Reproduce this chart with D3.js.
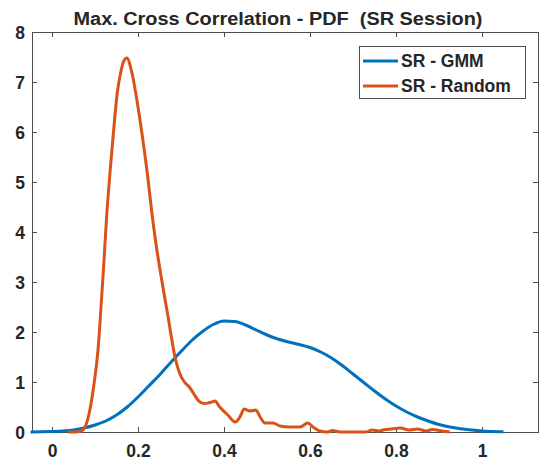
<!DOCTYPE html>
<html><head><meta charset="utf-8">
<script src="https://cdn.jsdelivr.net/npm/d3@7"></script>
<style>body{margin:0;background:#fff}svg{display:block;font-family:"Liberation Sans",Arial,sans-serif}</style>
</head><body>
<script>
const title = "Max. Cross Correlation - PDF  (SR Session)";
const seriesNames = ["SR - GMM", "SR - Random"];
const seriesColors = ["#0072BD", "#D95319"];
const xTicks = [0, 0.2, 0.4, 0.6, 0.8, 1];
const xTickLabels = ["0", "0.2", "0.4", "0.6", "0.8", "1"];
const yTicks = [0, 1, 2, 3, 4, 5, 6, 7, 8];

const gmmX = [-0.05,-0.025,0,0.025,0.05,0.075,0.1,0.125,0.15,0.175,0.2,0.225,0.25,0.275,0.3,0.325,0.35,0.375,0.4,0.425,0.45,0.475,0.5,0.525,0.55,0.575,0.6,0.625,0.65,0.675,0.7,0.725,0.75,0.775,0.8,0.825,0.85,0.875,0.9,0.925,0.95,0.975,1.0,1.025,1.05];
const gmmY = [0.0,0.003,0.01,0.02,0.04,0.08,0.14,0.22,0.34,0.50,0.70,0.92,1.14,1.38,1.61,1.83,2.01,2.15,2.22,2.21,2.14,2.04,1.94,1.86,1.80,1.75,1.69,1.60,1.48,1.33,1.16,0.99,0.82,0.66,0.52,0.40,0.30,0.22,0.15,0.10,0.065,0.04,0.02,0.01,0.003];

const randX = [0.037,0.05,0.06,0.068,0.077,0.088,0.098,0.107,0.114,0.12,0.127,0.135,0.143,0.152,0.16,0.167,0.174,0.186,0.2,0.212,0.222,0.232,0.242,0.256,0.27,0.286,0.298,0.308,0.321,0.33,0.344,0.355,0.363,0.372,0.379,0.39,0.409,0.426,0.437,0.447,0.46,0.474,0.484,0.495,0.514,0.53,0.553,0.577,0.595,0.607,0.623,0.64,0.653,0.67,0.7,0.73,0.744,0.76,0.775,0.79,0.81,0.83,0.85,0.87,0.885,0.9,0.925];
const randY = [0.0,0.0,0.005,0.02,0.1,0.44,0.98,1.64,2.5,3.3,4.3,5.2,6.0,6.8,7.2,7.42,7.48,7.18,6.5,5.8,5.15,4.4,3.75,3.0,2.3,1.5,1.15,1.0,0.88,0.76,0.6,0.57,0.58,0.6,0.62,0.5,0.34,0.2,0.3,0.46,0.42,0.44,0.3,0.18,0.18,0.12,0.1,0.1,0.18,0.1,0.02,0.0,0.03,0.0,0.0,0.0,0.04,0.02,0.05,0.06,0.08,0.04,0.06,0.02,0.05,0.03,0.0];

const W = 539, H = 461;
const svg = d3.select("body").append("svg").attr("width", W).attr("height", H);

const x = d3.scaleLinear().domain([-0.0465, 1.1325]).range([32, 539]);
const y = d3.scaleLinear().domain([0, 8]).range([432, 32]);
const axisColor = "#4d4d4d";
const textColor = "#262626";

const gx = svg.append("g").attr("transform", "translate(0,432)")
  .call(d3.axisBottom(x).tickValues(xTicks).tickFormat((d,i)=>xTickLabels[i]).tickSizeInner(-5).tickSizeOuter(0).tickPadding(13));
const gxt = svg.append("g").attr("transform", "translate(0,32)")
  .call(d3.axisTop(x).tickValues(xTicks).tickFormat("").tickSizeInner(-5).tickSizeOuter(0));
const gy = svg.append("g").attr("transform", "translate(32,0)")
  .call(d3.axisLeft(y).tickValues(yTicks).tickSizeInner(-5).tickSizeOuter(0).tickPadding(7));
const gyr = svg.append("g").attr("transform", "translate(538,0)")
  .call(d3.axisRight(y).tickValues(yTicks).tickFormat("").tickSizeInner(-5).tickSizeOuter(0));
[gx,gxt,gy,gyr].forEach(g=>{
  g.selectAll("path,line").attr("stroke", axisColor).attr("stroke-width",1);
  g.selectAll("text").attr("fill", textColor).style("font-size","17.5px").style("font-weight","bold").style("font-family","'Liberation Sans',Arial,sans-serif");
});
gy.selectAll("text").attr("dy","0.36em");

const line = d3.line().x(d=>x(d[0])).y(d=>y(d[1])).curve(d3.curveMonotoneX);
const gmm = gmmX.map((v,i)=>[v,gmmY[i]]);
const rnd = randX.map((v,i)=>[v,randY[i]]);
svg.append("path").datum(gmm).attr("d",line).attr("fill","none").attr("stroke",seriesColors[0]).attr("stroke-width",3);
svg.append("path").datum(rnd).attr("d",line).attr("fill","none").attr("stroke",seriesColors[1]).attr("stroke-width",3).attr("stroke-linejoin","round");

svg.append("text").attr("x", 278).attr("y", 25).attr("text-anchor","middle")
  .attr("fill", textColor).style("font-size","18px").style("font-weight","bold")
  .style("white-space","pre").attr("xml:space","preserve")
  .attr("textLength", 409).attr("lengthAdjust","spacingAndGlyphs")
  .text(title);

const lg = svg.append("g");
lg.append("rect").attr("x",359.5).attr("y",46.5).attr("width",166).attr("height",52)
  .attr("fill","#fff").attr("stroke",axisColor).attr("stroke-width",1);
seriesNames.forEach((n,i)=>{
  const yy = 61 + i*25;
  lg.append("line").attr("x1",363).attr("x2",398).attr("y1",yy).attr("y2",yy)
    .attr("stroke",seriesColors[i]).attr("stroke-width",3);
  lg.append("text").attr("x",401).attr("y",yy).attr("dy","0.36em")
    .attr("fill",textColor).style("font-size","17.5px").style("font-weight","bold").text(n);
});
</script>
</body></html>
